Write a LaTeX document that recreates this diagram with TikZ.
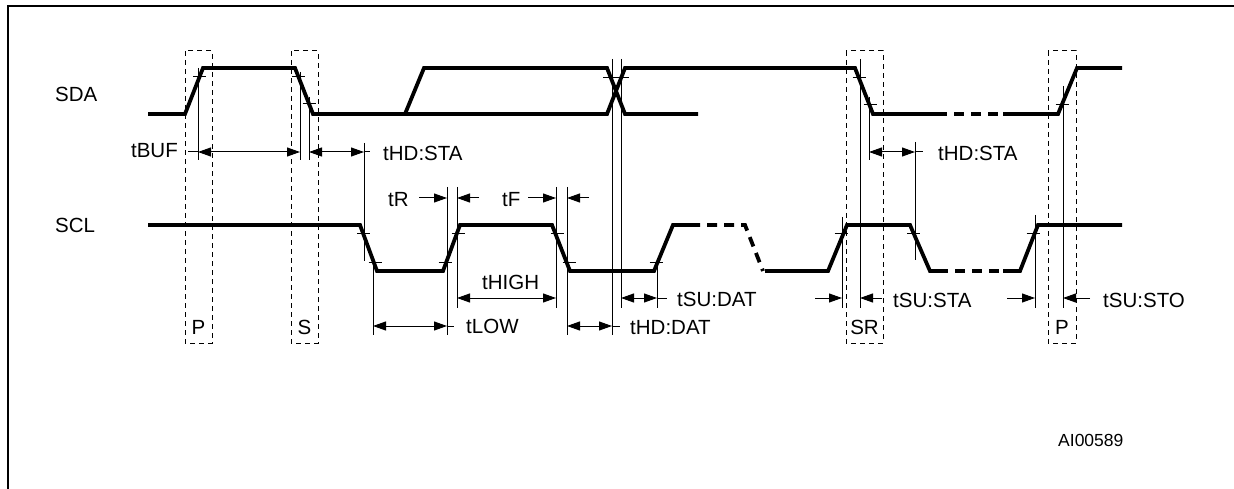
\documentclass[tikz,border=0pt]{standalone}
\usepackage{fontspec}
\setmainfont{Liberation Sans}
\usetikzlibrary{arrows.meta}
\tikzset{
  sig/.style={line width=3.8pt, line join=miter},
  sigdash/.style={line width=3.8pt, dash pattern=on 10pt off 7pt},
  thin/.style={line width=1pt},
  dbox/.style={line width=1pt, dash pattern=on 5pt off 4pt},
  dimboth/.style={line width=1pt, {Triangle[length=13pt,width=9pt]}-{Triangle[length=13pt,width=9pt]}},
  dimto/.style={line width=1pt, -{Triangle[length=13pt,width=9pt]}},
  lbl/.style={font=\fontsize{20.5}{22}\selectfont, inner sep=0pt, anchor=base west},
  lblr/.style={font=\fontsize{20.5}{22}\selectfont, inner sep=0pt, anchor=base east},
  lblc/.style={font=\fontsize{20.5}{22}\selectfont, inner sep=0pt, anchor=base},
}
\begin{document}
\begin{tikzpicture}[x=1pt,y=-1pt]
\useasboundingbox (0,0) rectangle (1234,489);
% frame
\draw[line width=2.5pt] (8,489) -- (8,6) -- (1234,6);
% dashed boxes
\draw[dbox] (185,51) rectangle (212,343);
\draw[dbox] (291,51) rectangle (318,343);
\draw[dbox] (846,51) rectangle (883,343);
\draw[dbox] (1048,51) rectangle (1076,343);
% SDA
\draw[sig] (148,114) -- (185,114) -- (203,68) -- (295,68) -- (313,114) -- (607,114) -- (625,68) -- (855,68) -- (873,114) -- (937,114);
\draw[sig] (405,114) -- (424,68) -- (607,68) -- (625,114) -- (698,114);
\draw[sigdash] (937,114) -- (1003,114);
\draw[sig] (1003,114) -- (1058,114) -- (1077,68) -- (1122,68);
% SCL
\draw[sig] (148,225) -- (360,225) -- (377,271) -- (443,271) -- (460,225) -- (552,225) -- (570,271) -- (654,271) -- (673,225) -- (690,225);
\draw[sigdash] (690,225) -- (745,225) -- (763,271);
\draw[sig] (765,271) -- (828,271) -- (847,225) -- (910,225) -- (930,271) -- (938,271);
\draw[sigdash] (938,271) -- (1003,271);
\draw[sig] (1003,271) -- (1020,271) -- (1038,225) -- (1122,225);
% ticks
\foreach \x/\y in {199.5/77, 298.5/77, 309/104, 859/78, 870/105, 1062/105,
  363.5/234, 375/262, 445/262, 458/234, 557/234, 569/262, 656/262, 841/234, 913.5/234, 1033/234}
  \draw[thin] (\x-6.5,\y) -- (\x+6.5,\y);
\draw[thin] (603,78) -- (629,78);
% verticals
\foreach \x/\a/\b in {198/68/160, 300/72/160, 309/97/160, 364/143/261, 373/257/335,
  447/187/335, 457/187/308, 556/187/308, 567/187/335, 612/59/335, 621/59/308,
  657/260/308, 842/217/308, 860/59/308, 869/97/160, 915/142/260, 1035/215/308, 1063/86/308}
  \draw[thin] (\x,\a) -- (\x,\b);
% dimension arrows
\draw[thin] (188,152) -- (198,152);
\draw[dimboth] (198,152) -- (300,152);
\draw[dimboth] (309,152) -- (364,152);
\draw[thin] (364,152) -- (370,152);
\draw[dimto] (419,198) -- (447,198);
\draw[dimto] (479,198) -- (457,198);
\draw[dimto] (528,198) -- (556,198);
\draw[dimto] (589,198) -- (567,198);
\draw[dimboth] (457,298) -- (556,298);
\draw[dimboth] (373,326) -- (447,326);
\draw[thin] (447,326) -- (454,326);
\draw[dimboth] (567,326) -- (612,326);
\draw[thin] (612,326) -- (620,326);
\draw[dimboth] (621,298) -- (657,298);
\draw[thin] (657,298) -- (667,298);
\draw[dimto] (815,298) -- (842,298);
\draw[dimto] (882,298) -- (860,298);
\draw[dimboth] (869,152) -- (915,152);
\draw[thin] (915,152) -- (923,152);
\draw[dimto] (1007,298) -- (1035,298);
\draw[dimto] (1090,298) -- (1063,298);
% labels
\node[lbl] (sda) at (55,102) {SDA};
\node[lbl] (scl) at (55,233) {SCL};
\node[lblr] (tbuf) at (178,158) {tBUF};
\node[lbl] (thdsta1) at (383,161) {tHD:STA};
\node[lbl] (tr) at (388,206.5) {tR};
\node[lbl] (tf) at (502,206.5) {tF};
\node[lbl] (thigh) at (482,289) {tHIGH};
\node[lbl] (tlow) at (466,333.5) {tLOW};
\node[lbl] (tsudat) at (677,306) {tSU:DAT};
\node[lbl] (thddat) at (630,334) {tHD:DAT};
\node[lbl] (tsusta) at (893,307) {tSU:STA};
\node[lbl] (thdsta2) at (938,161) {tHD:STA};
\node[lbl] (tsusto) at (1103,307) {tSU:STO};
\node[lblc] (p1) at (198.5,334) {P};
\node[lblc] (s1) at (304.5,334) {S};
\node[lblc] (sr) at (864.5,334) {SR};
\node[lblc] (p2) at (1062,334) {P};
\node[inner sep=0pt, anchor=base west, font=\fontsize{17.5}{19}\selectfont] (id) at (1058,446) {AI00589};
\end{tikzpicture}
\end{document}
